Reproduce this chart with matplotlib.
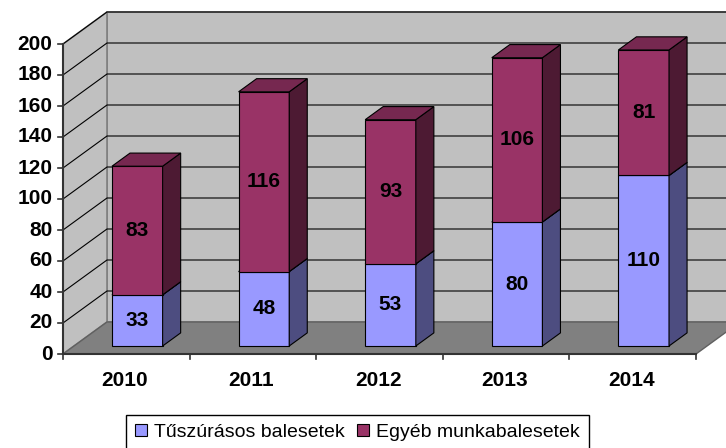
import matplotlib
matplotlib.use('Agg')
import matplotlib.pyplot as plt
from matplotlib.patches import Polygon, Patch

plt.rcParams['font.family'] = ['Liberation Sans', 'DejaVu Sans']

years = ['2010', '2011', '2012', '2013', '2014']
tuszuras = [33, 48, 53, 80, 110]
egyeb = [83, 116, 93, 106, 81]
series_names = ['Tűszúrásos balesetek', 'Egyéb munkabalesetek']
yticks = list(range(0, 201, 20))

front_cols = ['#9999FF', '#993366']
side_cols = ['#4D4D80', '#4D1A33']
top_cols = ['#7A7ACC', '#762850']

W, H = 726, 448
fig = plt.figure(figsize=(W / 100, H / 100), dpi=100)
ax = fig.add_axes([0, 0, 1, 1])
ax.set_axis_off()

PXC = 126.6   # px per category
PXV = 1.55    # px per value unit
X0PX, Y0PX = 63, 354
ax.set_xlim(-0.5 - X0PX / PXC, -0.5 + (W - X0PX) / PXC)
ax.set_ylim(-(H - Y0PX) / PXV, Y0PX / PXV)

DX = 44 / PXC
DY = 32 / PXV
n = len(years)
xl, xr = -0.5, n - 0.5
vmax = yticks[-1]
FS = 15


def P(x, v, d):
    return (x + d * DX, v + d * DY)


def poly(pts, fc, ec, z, lw=0.8):
    ax.add_patch(Polygon(pts, closed=True, facecolor=fc, edgecolor=ec, lw=lw, zorder=z))


# walls and floor
poly([P(xl, 0, 1), P(xr, 0, 1), P(xr, vmax, 1), P(xl, vmax, 1)], '#C0C0C0', '#808080', 1, 1.2)
poly([P(xl, 0, 0), P(xl, 0, 1), P(xl, vmax, 1), P(xl, vmax, 0)], '#C0C0C0', '#808080', 1, 1.2)
for v in yticks[1:]:
    pts = [P(xl, v, 0), P(xl, v, 1), P(xr, v, 1)]
    ax.plot([p[0] for p in pts], [p[1] for p in pts], color='black', lw=0.8, zorder=2)
poly([P(xl, 0, 0), P(xr, 0, 0), P(xr, 0, 1), P(xl, 0, 1)], '#808080', '#606060', 3, 1.0)

# bars
bw = 0.2
d0, d1 = 0.25, 0.66
for i in range(n):
    segs = [(0, tuszuras[i]), (tuszuras[i], tuszuras[i] + egyeb[i])]
    for s, (v0, v1) in enumerate(segs):
        x0, x1 = i - bw, i + bw
        z = 4 + s
        poly([P(x0, v0, d0), P(x1, v0, d0), P(x1, v1, d0), P(x0, v1, d0)], front_cols[s], 'black', z)
        poly([P(x1, v0, d0), P(x1, v0, d1), P(x1, v1, d1), P(x1, v1, d0)], side_cols[s], 'black', z)
        poly([P(x0, v1, d0), P(x1, v1, d0), P(x1, v1, d1), P(x0, v1, d1)], top_cols[s], 'black', z)
        cx, cy = P(i, (v0 + v1) / 2, d0)
        ax.text(cx, cy, str(v1 - v0), ha='center', va='center', fontsize=FS,
                fontweight='bold', color='black', zorder=10)

# axes lines
axc = '#333333'
ax.plot([xl, xl], [0, vmax], color=axc, lw=1.5, zorder=6)
ax.plot([xl, xr], [0, 0], color=axc, lw=1.5, zorder=6)
tl = 5 / PXC
for v in yticks:
    ax.plot([xl - tl, xl], [v, v], color=axc, lw=1.2, zorder=6)
    ax.annotate(str(v), (xl, v), xytext=(-7.5, 0), textcoords='offset points',
                ha='right', va='center', fontsize=FS, fontweight='bold')
tv = 5 / PXV
for k in range(n + 1):
    ax.plot([xl + k, xl + k], [0, -tv], color=axc, lw=1.2, zorder=6)
for i, yr in enumerate(years):
    ax.annotate(yr, (i, 0), xytext=(-1, -19), textcoords='offset points',
                ha='center', va='center', fontsize=FS, fontweight='bold')

handles = [Patch(facecolor=front_cols[k], edgecolor='black', lw=0.8) for k in range(2)]
leg = ax.legend(handles, series_names, loc='upper center', ncol=2,
                bbox_to_anchor=(357.5 / W, 1 - 415 / H), bbox_transform=fig.transFigure,
                fontsize=14, frameon=True, fancybox=False, edgecolor='black',
                framealpha=1, handlelength=0.6, handleheight=0.6, handletextpad=0.4,
                columnspacing=0.6, borderpad=0.45, borderaxespad=0)
leg.get_frame().set_linewidth(1.0)

fig.savefig('out.png', dpi=100)
